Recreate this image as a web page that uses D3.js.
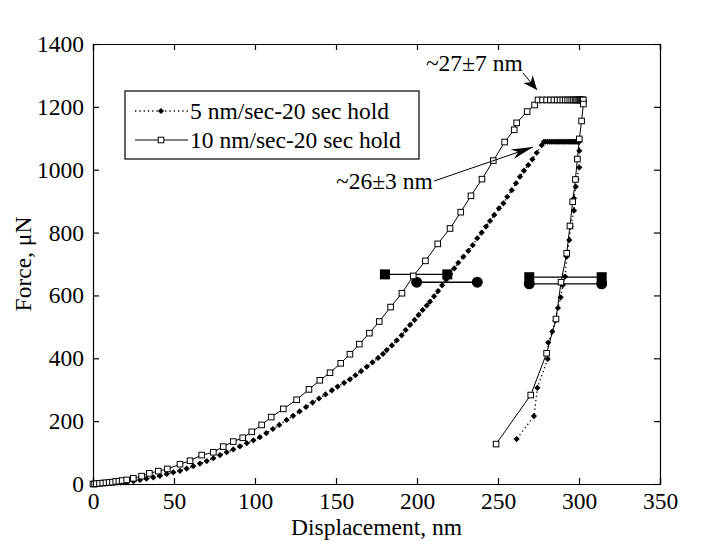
<!DOCTYPE html>
<html><head><meta charset="utf-8">
<script src="https://cdn.jsdelivr.net/npm/d3@7"></script>
<style>body{margin:0;background:#fff}svg{display:block}text{font-family:"Liberation Serif","Times New Roman",serif;fill:#000}</style>
</head><body><div id="chart"></div>
<script>
// ---------- data ----------
const xTicks = [0,50,100,150,200,250,300,350];
const yTicks = [0,200,400,600,800,1000,1200,1400];
const seriesNames = ["5 nm/sec-20 sec hold","10 nm/sec-20 sec hold"];

// 10 nm/sec: loading, hold, unloading (displacement nm, force uN)
const s10x = [0,1,2,4,6,8,10,12,14,16,18,20.8,24.9,30,34.8,40.3,45.9,53.7,59.9,67.1,74.3,80.4,86.6,92.4,98,104.1,110,117.5,125.7,133.3,140,146.3,152.9,158.6,164.4,170.6,176.7,183.7,190.7,197.7,205.2,212.8,220.4,227,233.3,240.1,247.1,254.1,260,261.5,268,272.6,
  274.7,277.5,280,282.3,284.5,286.5,288.3,290,291.5,293,294.3,295.5,296.6,297.6,298.5,299.3,300,300.7,301.3,301.9,302.4,302.7,
  302.7,301.6,300.2,299,297.8,296.1,294.4,292.4,288.9,285.8,280,270.2,248.8];
const s10y = [0,0,1,2,3,4,5,6,8,9,11,13,18,25,34,41,48,63,74,92,101,119,135,147,166,188,213,239,268,301,330,354,384,413,445,480,517,563,607,662,710,764,813,865,917,970,1029,1088,1127,1149,1185,1206,
  1222,1222,1222,1222,1222,1222,1222,1222,1222,1222,1222,1222,1222,1222,1222,1222,1222,1222,1222,1222,1222,1222,
  1209,1155,1098,1034,969,898,821,734,642,525,416,283,127];

// 5 nm/sec: loading, hold, unloading
const s5x = [0,1,3,5,7,9,11,13,15,17,19,20.8,25,29,33,37.2,41.3,45.5,49.6,53.7,57.8,61.9,66,70.2,74.3,78.4,82.5,86.6,90.7,94.9,99,103,107,111,115,119.5,123.5,127.5,131.5,135.5,139.5,143.5,147.5,151,155,158.6,162,165.5,169,172.5,176,179,181.3,184.5,187.5,190.5,193,195.7,198.5,201,203.5,206,208,210.5,213,215.5,218,220.5,223,225.5,228.6,231.7,234.4,237.2,239.9,242.6,245.1,247.7,250.6,253.3,255.7,258.5,261.1,263.6,266,268.7,271.2,273.9,277,
  278.3,279.5,280.7,281.8,282.9,284,285,286,287,288,289,290,290.9,291.8,292.7,293.6,294.4,295.2,296,296.8,297.5,298.2,298.9,299.6,300.2,
  300.2,299.2,300.2,298.5,298,296.9,296.9,294.9,294,292.4,291.4,290,288.7,287,285.5,283.5,281,280.7,274.3,272.2,261.5];
const s5y = [0,0,1,1,2,2,3,3,4,4,5,5,9,13,17,21,26,32,37,42,49,57,65,73,82,92,101,110,120,130,139,149,162,175,188,204,217,231,245,259,272,285,298,310,322,333,346,359,373,387,401,414,426,441,457,473,490,506,522,538,554,568,580,597,614,632,650,668,686,704,723,742,760,782,800,819,837,856,877,893,914,935,957,978,997,1015,1033,1054,1078,
  1089,1089,1089,1089,1089,1089,1089,1089,1089,1089,1089,1089,1089,1089,1089,1089,1089,1089,1089,1089,1089,1089,1089,1089,1089,
  1060,1034,1007,970,946,909,870,819,776,723,660,633,594,560,520,485,450,398,306,216,143];

// error bars (range of displacement at a given force)
const barSeries = ["10","5","10","5"];
const barForce  = [667,642,658,637];
const barLow    = [180.2,199.8,269.3,269.3];
const barHigh   = [218.7,237.2,314,314];

// annotations
const annText  = ["~27\u00b17 nm","~26\u00b13 nm"];
const annTextX = [205.5,150];
const annTextY = [1314,939];
const annFromX = [265.4,210.5];
const annFromY = [1308,964];
const annToX   = [274.1,271.6];
const annToY   = [1254,1072];

// ---------- chart ----------
const W=728,H=545;
const svg=d3.select("#chart").append("svg").attr("width",W).attr("height",H);
const x=d3.scaleLinear().domain([0,350]).range([93,660]);
const y=d3.scaleLinear().domain([0,1400]).range([484,44]);
const FS=23.5;

// axes
const gB=svg.append("g").attr("transform","translate(0,484)").call(d3.axisBottom(x).tickValues(xTicks).tickSize(-6).tickPadding(8).tickFormat(d3.format("d")));
const gT=svg.append("g").attr("transform","translate(0,44)").call(d3.axisTop(x).tickValues(xTicks).tickSize(-6).tickFormat(""));
const gL=svg.append("g").attr("transform","translate(93,0)").call(d3.axisLeft(y).tickValues(yTicks).tickSize(-6).tickPadding(9).tickFormat(d3.format("d")));
const gR=svg.append("g").attr("transform","translate(660,0)").call(d3.axisRight(y).tickValues(yTicks).tickSize(-6).tickFormat(""));
[gB,gT,gL,gR].forEach(g=>{
  g.attr("font-family",null).attr("font-size",null);
  g.select(".domain").attr("stroke","#000").attr("stroke-width",1.2);
  g.selectAll(".tick line").attr("stroke","#000").attr("stroke-width",1.2);
  g.selectAll("text").attr("font-size",FS).attr("fill","#000");
});
gB.selectAll("text").attr("dy","0.72em");

svg.append("text").attr("x",376.5).attr("y",535).attr("text-anchor","middle").attr("font-size",FS).text("Displacement, nm");
svg.append("text").attr("transform","translate(31,264) rotate(-90)").attr("text-anchor","middle").attr("font-size",FS).text("Force, \u03bcN");

const g=svg.append("g");
const line=d3.line().x(d=>x(d[0])).y(d=>y(d[1]));
const d10=s10x.map((v,i)=>[v,s10y[i]]);
const d5=s5x.map((v,i)=>[v,s5y[i]]);

// error bars
const bars=barSeries.map((s,i)=>({s,f:barForce[i],lo:barLow[i],hi:barHigh[i]}));
bars.forEach(b=>{
  g.append("line").attr("x1",x(b.lo)).attr("x2",x(b.hi)).attr("y1",y(b.f)).attr("y2",y(b.f)).attr("stroke","#000").attr("stroke-width",1.3);
  [b.lo,b.hi].forEach(v=>{
    if(b.s==="10") g.append("rect").attr("x",x(v)-5).attr("y",y(b.f)-5).attr("width",10).attr("height",10).attr("fill","#000");
    else g.append("circle").attr("cx",x(v)).attr("cy",y(b.f)).attr("r",5.5).attr("fill","#000");
  });
});

// series lines
g.append("path").attr("d",line(d5)).attr("fill","none").attr("stroke","#000").attr("stroke-width",1.3).attr("stroke-dasharray","1.3,3");
g.append("path").attr("d",line(d10)).attr("fill","none").attr("stroke","#000").attr("stroke-width",1);

const diamond=(cx,cy,r)=>`M${cx},${cy-r}L${cx+r},${cy}L${cx},${cy+r}L${cx-r},${cy}Z`;
g.selectAll(".m5").data(d5).join("path").attr("class","m5").attr("d",d=>diamond(x(d[0]),y(d[1]),3.1)).attr("fill","#000");
g.selectAll(".m10").data(d10).join("rect").attr("class","m10")
  .attr("x",d=>x(d[0])-2.8).attr("y",d=>y(d[1])-2.8).attr("width",5.6).attr("height",5.6)
  .attr("fill","#fff").attr("stroke","#000").attr("stroke-width",1);

// annotations
function head(x0,y0,x1,y1,len,half){
  const dx=x1-x0,dy=y1-y0,L=Math.hypot(dx,dy),ux=dx/L,uy=dy/L;
  const bx=x1-ux*len,by=y1-uy*len;
  return `M${x1},${y1}L${bx-uy*half},${by+ux*half}L${bx+ux*len*0.3},${by+uy*len*0.3}L${bx+uy*half},${by-ux*half}Z`;
}
const heads=[[14,6],[22,5]];
annText.forEach((t,i)=>{
  svg.append("text").attr("x",x(annTextX[i])).attr("y",y(annTextY[i])).attr("font-size",FS).text(t);
  const x0=x(annFromX[i]),y0=y(annFromY[i]),x1=x(annToX[i]),y1=y(annToY[i]);
  svg.append("line").attr("x1",x0).attr("y1",y0).attr("x2",x1).attr("y2",y1).attr("stroke","#000").attr("stroke-width",1);
  svg.append("path").attr("d",head(x0,y0,x1,y1,heads[i][0],heads[i][1])).attr("fill","#000");
});

// legend
const lg=svg.append("g");
lg.append("rect").attr("x",125).attr("y",91).attr("width",294).attr("height",68).attr("fill","#fff").attr("stroke","#000").attr("stroke-width",1.2);
const rowY=[111,140];
seriesNames.forEach((n,i)=>{
  lg.append("line").attr("x1",135).attr("x2",188).attr("y1",rowY[i]).attr("y2",rowY[i]).attr("stroke","#000")
    .attr("stroke-width",i===0?1.3:1).attr("stroke-dasharray",i===0?"1.3,3":null);
  if(i===0) lg.append("path").attr("d",diamond(161,rowY[i],3.1)).attr("fill","#000");
  else lg.append("rect").attr("x",158.2).attr("y",rowY[i]-2.8).attr("width",5.6).attr("height",5.6).attr("fill","#fff").attr("stroke","#000");
  lg.append("text").attr("x",190).attr("y",rowY[i]+7.5).attr("font-size",FS).text(n);
});
</script></body></html>
